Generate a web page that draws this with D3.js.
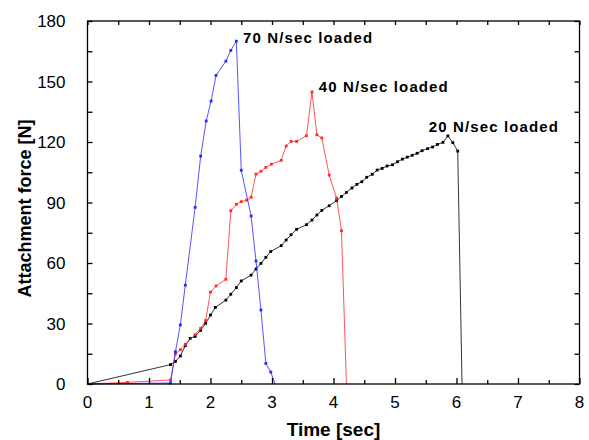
<!DOCTYPE html>
<html><head><meta charset="utf-8">
<script src="https://cdn.jsdelivr.net/npm/d3@7"></script>
<style>body{margin:0;background:#fff}svg{display:block}text{font-family:"Liberation Sans",Arial,sans-serif}</style>
</head><body>
<script>
const xTicks = [0,1,2,3,4,5,6,7,8];
const yTicks = [0,30,60,90,120,150,180];
const seriesNames = ["70 N/sec loaded","40 N/sec loaded","20 N/sec loaded"];
const seriesColors = ["#2a2aff","#ff2a2a","#000000"];
const time70 = [0,1.35,1.43,1.51,1.59,1.75,1.84,1.93,2.01,2.09,2.25,2.33,2.42,2.50,2.66,2.74,2.82,2.90,2.98,3.05];
const force70 = [0,0.5,16.0,29.3,49,87.6,113,130.4,140.3,153,160.1,165.4,170,106,83.3,61,36.7,10.2,5.9,0];
const time40 = [0,0.65,1.35,1.43,1.51,1.59,1.75,1.84,1.92,2.00,2.09,2.25,2.33,2.42,2.50,2.59,2.66,2.74,2.82,2.90,2.99,3.15,3.23,3.31,3.40,3.56,3.65,3.73,3.81,3.93,4.05,4.13,4.21];
const force40 = [0,0.8,2.0,14.9,17,19.7,24.5,27.6,31.4,45.6,48.6,51.9,85.9,89.1,90.4,91.2,92.6,104.1,105.5,107.4,109,110.9,118,120.3,120.3,123.1,144.8,123.6,122,103.6,92.2,76,0];
const time20 = [0,1.35,1.43,1.51,1.59,1.67,1.75,1.84,1.92,2.00,2.08,2.25,2.33,2.42,2.50,2.66,2.74,2.82,2.90,2.98,3.15,3.23,3.31,3.40,3.56,3.65,3.73,3.81,3.93,4.05,4.13,4.21,4.30,4.38,4.46,4.54,4.63,4.71,4.79,4.87,4.96,5.04,5.12,5.20,5.28,5.36,5.44,5.53,5.61,5.69,5.78,5.86,5.94,6.02,6.09];
const force20 = [0,9.6,11.2,13.9,19,22.6,23.6,26.6,30.1,34.2,38,41.6,44.5,47.8,51.1,54,57,59.8,62.8,65.7,68.6,71.4,74,76.7,79,81.3,83.8,86.1,88.4,90.9,93,95,97.2,99,100.3,102.5,104,106.1,106.9,108.1,108.7,110.2,111.5,112.5,113.4,114.4,115.7,116.7,117.5,118.8,119.8,123,119.7,115.5,0];
const labelAnchor = [[2.53,170],[3.76,146],[5.55,126]];

const W=589,H=440;
const m={l:87.5,r:9.5,t:21,b:56};
const svg=d3.select("body").append("svg").attr("width",W).attr("height",H);
const x=d3.scaleLinear().domain([0,8]).range([m.l,W-m.r]);
const y=d3.scaleLinear().domain([0,180]).range([H-m.b,m.t]);

const series=[[time70,force70],[time40,force40],[time20,force20]].map((s,i)=>({
  name:seriesNames[i],color:seriesColors[i],pts:s[0].map((t,j)=>[t,s[1][j]])}));

const line=d3.line().x(d=>x(d[0])).y(d=>y(d[1]));
const g=svg.append("g");
series.slice().reverse().forEach(s=>{
  g.append("path").attr("d",line(s.pts)).attr("fill","none").attr("stroke",s.color).attr("stroke-width",1).attr("stroke-opacity",0.8);
  g.selectAll(null).data(s.pts.slice(1,-1)).enter().append("rect")
   .attr("x",d=>x(d[0])-1.4).attr("y",d=>y(d[1])-1.4).attr("width",2.8).attr("height",2.8).attr("fill",s.color);
});

// frame
svg.append("rect").attr("x",x(0)).attr("y",y(180)).attr("width",x(8)-x(0)).attr("height",y(0)-y(180))
  .attr("fill","none").attr("stroke","#000").attr("stroke-width",1.3);

const xAll=d3.range(0,8.01,0.5), yAll=d3.range(0,180.1,15);
const xb=svg.append("g").attr("transform",`translate(0,${y(0)})`)
  .call(d3.axisBottom(x).tickValues(xAll).tickSize(0).tickFormat(""));
xb.select(".domain").remove();
xb.selectAll(".tick").append("line").attr("y2",d=>Number.isInteger(d)?-6:-4).attr("stroke","#000").attr("stroke-width",1.3);
const xt=svg.append("g").attr("transform",`translate(0,${y(180)})`)
  .call(d3.axisTop(x).tickValues(xAll).tickSize(0).tickFormat(""));
xt.select(".domain").remove();
xt.selectAll(".tick").append("line").attr("y2",4).attr("stroke","#000").attr("stroke-width",1.3);
const yl=svg.append("g").attr("transform",`translate(${x(0)},0)`)
  .call(d3.axisLeft(y).tickValues(yAll).tickSize(0).tickFormat(""));
yl.select(".domain").remove();
yl.selectAll(".tick").append("line").attr("x2",5).attr("stroke","#000").attr("stroke-width",1.3);
const yr=svg.append("g").attr("transform",`translate(${x(8)},0)`)
  .call(d3.axisRight(y).tickValues(yAll).tickSize(0).tickFormat(""));
yr.select(".domain").remove();
yr.selectAll(".tick").append("line").attr("x2",-5).attr("stroke","#000").attr("stroke-width",1.3);

// tick labels
svg.append("g").selectAll("text").data(xTicks).enter().append("text")
  .attr("x",d=>x(d)).attr("y",y(0)+24).attr("text-anchor","middle").attr("font-size",17).text(d=>d);
svg.append("g").selectAll("text").data(yTicks).enter().append("text")
  .attr("x",x(0)-22).attr("y",d=>y(d)+6).attr("text-anchor","end").attr("font-size",17).text(d=>d);

svg.append("text").attr("x",(x(0)+x(8))/2).attr("y",436).attr("text-anchor","middle")
  .attr("font-size",19).attr("font-weight","bold").text("Time [sec]");
svg.append("text").attr("transform",`translate(31,${(y(0)+y(180))/2+6}) rotate(-90)`).attr("text-anchor","middle")
  .attr("font-size",18).attr("font-weight","bold").text("Attachment force [N]");

svg.append("g").selectAll("text").data(series).enter().append("text")
  .attr("x",(d,i)=>x(labelAnchor[i][0])).attr("y",(d,i)=>y(labelAnchor[i][1])+2)
  .attr("font-size",15).attr("font-weight","bold").attr("textLength",129).attr("lengthAdjust","spacing").text(d=>d.name);
</script>
</body></html>
